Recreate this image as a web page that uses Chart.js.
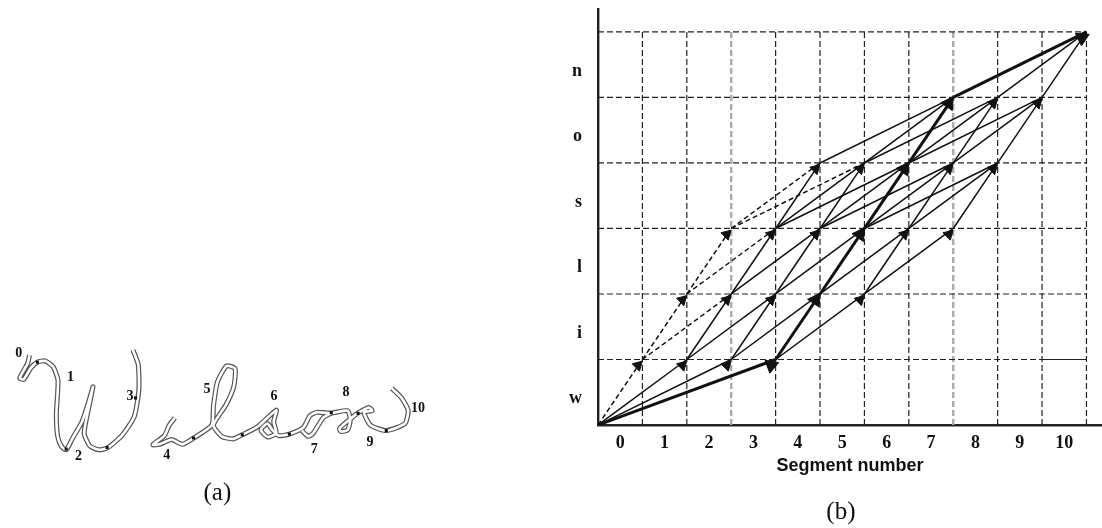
<!DOCTYPE html>
<html>
<head>
<meta charset="utf-8">
<title>Wilson segment graph</title>
<script src="https://cdn.jsdelivr.net/npm/chart.js@4"></script>
<style>
    html, body { margin: 0; padding: 0; background: #fff; }
    body { width: 1102px; height: 528px; position: relative; overflow: hidden; }
    canvas { position: absolute; filter: blur(0.55px); }
    #strokeChart { left: 0; top: 330px; }
    #graphChart { left: 560px; top: 0; }
</style>
</head>
<body>
<canvas id="strokeChart" width="440" height="198"></canvas>
<canvas id="graphChart" width="551" height="528"></canvas>
<script>
// panel (b): segment boundaries across, letter boundaries up
var boundaries = [0, 1, 2, 3, 4, 5, 6, 7, 8, 9, 10, 11];
var letterRows = [0, 1, 2, 3, 4, 5, 6];
var greyBoundaries = [3, 8];
var segmentLabels = ["0", "1", "2", "3", "4", "5", "6", "7", "8", "9", "10"];
var letterLabels = ["w", "i", "l", "s", "o", "n"];

// edges are [fromBoundary, fromRow, toBoundary, toRow]
var bestPath = [[0, 0, 4, 1], [4, 1, 5, 2], [5, 2, 6, 3], [6, 3, 7, 4], [7, 4, 8, 5], [8, 5, 11, 6]];
var dashedEdges = [
    [0, 0, 1, 1], [1, 1, 2, 2], [1, 1, 3, 2], [2, 2, 3, 3], [2, 2, 4, 3], [3, 3, 5, 4], [3, 3, 6, 4]
];
var solidEdges = [
    [0, 0, 2, 1], [0, 0, 3, 1],
    [2, 1, 3, 2], [2, 1, 4, 2], [3, 1, 4, 2], [3, 1, 5, 2], [4, 1, 6, 2],
    [3, 2, 4, 3], [3, 2, 5, 3], [4, 2, 5, 3], [4, 2, 6, 3], [5, 2, 7, 3], [6, 2, 7, 3], [6, 2, 8, 3],
    [4, 3, 5, 4], [4, 3, 6, 4], [4, 3, 7, 4], [5, 3, 6, 4], [5, 3, 7, 4], [5, 3, 8, 4],
    [6, 3, 8, 4], [6, 3, 9, 4], [7, 3, 8, 4], [7, 3, 9, 4], [8, 3, 9, 4],
    [5, 4, 8, 5], [6, 4, 8, 5], [6, 4, 9, 5], [7, 4, 9, 5], [7, 4, 10, 5], [8, 4, 9, 5], [8, 4, 10, 5], [9, 4, 10, 5],
    [9, 5, 11, 6], [10, 5, 11, 6]
];
var solidRowOne = [10, 11];

// panel (a): the handwritten word
var strokeW = [
    [78, 66], [72, 92], [48, 138], [60, 142], [82, 106], [102, 88], [125, 84], [150, 102], [165, 145], [160, 250],
    [164, 320], [176, 352], [190, 362], [210, 325], [238, 275], [258, 215], [272, 165], [260, 225], [245, 310],
    [262, 350], [290, 362], [316, 356], [360, 318], [398, 258], [412, 175], [410, 95], [394, 50]
];
var strokeIlson = [
    [522, 262], [505, 285], [490, 318], [455, 346], [475, 345], [512, 330], [545, 345], [580, 325], [635, 285],
    [640, 225], [652, 150], [680, 100], [706, 108], [702, 165], [678, 222], [640, 285], [665, 320], [700, 328],
    [728, 315], [775, 290], [832, 238], [824, 275], [832, 310], [805, 322], [785, 300], [805, 280], [820, 300],
    [840, 318], [872, 313], [915, 292], [935, 255], [955, 245], [1000, 247], [1050, 240], [1058, 270], [1050, 300],
    [1030, 305], [1025, 295], [1080, 248], [1115, 230], [1125, 240], [1100, 245], [1120, 285], [1168, 302],
    [1225, 280], [1235, 240], [1215, 200], [1185, 170]
];
var strokeOLoop = [[1000, 247], [975, 262], [945, 310], [930, 320], [910, 302]];
var segmentCuts = [
    [102, 88], [190, 360], [315, 355], [402, 200], [579, 325], [728, 315], [872, 313], [1000, 246], [1082, 248], [1168, 302]
];
var strokeLabels = ["0", "1", "2", "3", "4", "5", "6", "7", "8", "9", "10"];
var strokeLabelX = [45, 203, 228, 385, 497, 620, 825, 948, 1045, 1118, 1265];
var strokeLabelY = [60, 135, 382, 195, 380, 172, 195, 362, 182, 338, 232];

// arrow heads stop just short of each grid crossing
var headBackX = 0.1;
var headBackY = 0.09;

function toPoints(list) {
    return list.map(function (p) { return { x: p[0], y: p[1] }; });
}

function edgeDataset(edge, width, dash) {
    return {
        data: [{ x: edge[0], y: edge[1] }, { x: edge[2], y: edge[3] }],
        borderColor: "#111",
        borderWidth: width,
        borderDash: dash,
        pointRadius: 0,
        tension: 0
    };
}

// small helper so labels go through the chart scales
function textPlugin(items) {
    return {
        id: "textMarks",
        afterDatasetsDraw: function (chart) {
            var ctx = chart.ctx;
            ctx.save();
            ctx.fillStyle = "#111";
            ctx.textAlign = "center";
            ctx.textBaseline = "middle";
            items.forEach(function (item) {
                ctx.font = item.font;
                ctx.fillText(item.text, chart.scales.x.getPixelForValue(item.x), chart.scales.y.getPixelForValue(item.y));
            });
            ctx.restore();
        }
    };
}

function initializeStrokeChart() {
    var notes = strokeLabels.map(function (label, i) {
        return { text: label, x: strokeLabelX[i], y: strokeLabelY[i], font: "bold 14px 'Liberation Serif'" };
    });
    notes.push({ text: "(a)", x: 652, y: 497, font: "25px 'Liberation Serif'" });

    var strokes = [strokeW, strokeIlson, strokeOLoop];
    var datasets = [{
        data: toPoints(segmentCuts),
        showLine: false,
        pointStyle: "rect",
        pointRadius: 2.2,
        pointBackgroundColor: "#111",
        pointBorderWidth: 0
    }];
    strokes.forEach(function (s) {
        datasets.push({ data: toPoints(s), borderColor: "#fff", borderWidth: 2.6, pointRadius: 0, tension: 0.2 });
    });
    strokes.forEach(function (s) {
        datasets.push({ data: toPoints(s), borderColor: "#555", borderWidth: 5, pointRadius: 0, tension: 0.2 });
    });

    new Chart(document.getElementById("strokeChart"), {
        type: "line",
        data: { datasets: datasets },
        options: {
            responsive: false,
            animation: false,
            layout: { padding: 0 },
            plugins: { legend: { display: false }, tooltip: { enabled: false } },
            scales: {
                x: { type: "linear", display: false, min: 0, max: 1320 },
                y: { type: "linear", display: false, min: 0, max: 594, reverse: true }
            }
        },
        plugins: [textPlugin(notes)]
    });
}

function nodeList() {
    var seen = {};
    var nodes = [];
    bestPath.concat(solidEdges, dashedEdges).forEach(function (e) {
        var key = e[2] + "," + e[3];
        if (!seen[key]) {
            seen[key] = true;
            var onPath = bestPath.some(function (b) { return b[2] === e[2] && b[3] === e[3]; });
            nodes.push({
                x: e[2] - headBackX,
                y: e[3] - headBackY,
                onPath: onPath,
                run: onPath ? e[2] - e[0] : 1.5
            });
        }
    });
    return nodes;
}

function arrowRotation(ctx) {
    var scales = ctx.chart.scales;
    var unitX = scales.x.getPixelForValue(1) - scales.x.getPixelForValue(0);
    var unitY = scales.y.getPixelForValue(0) - scales.y.getPixelForValue(1);
    var run = ctx.raw ? ctx.raw.run : 1;
    return Math.atan2(run * unitX, unitY) * 180 / Math.PI;
}

function initializeGraphChart() {
    var datasets = [{
        data: nodeList(),
        showLine: false,
        pointStyle: "triangle",
        pointRotation: arrowRotation,
        pointRadius: function (ctx) { return ctx.raw && ctx.raw.onPath ? 8 : 6; },
        pointBackgroundColor: "#111",
        pointBorderColor: "#111",
        pointBorderWidth: 1
    }];

    bestPath.forEach(function (e) { datasets.push(edgeDataset(e, 3, [])); });
    solidEdges.forEach(function (e) { datasets.push(edgeDataset(e, 1.5, [])); });
    dashedEdges.forEach(function (e) { datasets.push(edgeDataset(e, 1.5, [5, 3])); });

    datasets.push({
        data: solidRowOne.map(function (b) { return { x: b, y: 1 }; }),
        borderColor: "#222", borderWidth: 1.2, pointRadius: 0
    });
    letterRows.slice(1).forEach(function (row) {
        var lastBoundary = row === 1 ? solidRowOne[0] : boundaries[boundaries.length - 1];
        datasets.push({
            data: [{ x: 0, y: row }, { x: lastBoundary, y: row }],
            borderColor: "#222", borderWidth: 1.2, borderDash: [6, 3], pointRadius: 0
        });
    });
    boundaries.slice(1).forEach(function (b) {
        var grey = greyBoundaries.indexOf(b) >= 0;
        datasets.push({
            data: [{ x: b, y: 0 }, { x: b, y: letterRows[letterRows.length - 1] }],
            borderColor: grey ? "#aaa" : "#222",
            borderWidth: grey ? 2.4 : 1.2,
            borderDash: [6, 3],
            pointRadius: 0
        });
    });

    new Chart(document.getElementById("graphChart"), {
        type: "line",
        data: { datasets: datasets },
        options: {
            responsive: false,
            animation: false,
            layout: { padding: { top: 9, bottom: 51, left: 0, right: 0 } },
            plugins: { legend: { display: false }, tooltip: { enabled: false } },
            scales: {
                x: {
                    type: "linear",
                    min: 0,
                    max: 11.35,
                    grid: { display: false },
                    border: { color: "#222", width: 2.4 },
                    afterFit: function (scale) {
                        scale.height = 52;
                        scale.paddingLeft = 0;
                        scale.paddingRight = 0;
                    },
                    afterBuildTicks: function (scale) {
                        scale.ticks = segmentLabels.map(function (l, i) { return { value: i + 0.5 }; });
                    },
                    ticks: {
                        autoSkip: false,
                        maxRotation: 0,
                        padding: 0,
                        color: "#111",
                        font: { family: "'Liberation Serif'", size: 18, weight: "bold" },
                        callback: function (value, index) { return segmentLabels[index]; }
                    },
                    title: {
                        display: true,
                        text: "Segment number",
                        color: "#111",
                        padding: 0,
                        font: { family: "'Liberation Sans'", size: 18, weight: "bold" }
                    }
                },
                y: {
                    type: "linear",
                    min: 0,
                    max: 6.35,
                    grid: { display: false },
                    border: { color: "#222", width: 2.4 },
                    afterFit: function (scale) {
                        scale.width = 38;
                        scale.paddingTop = 0;
                        scale.paddingBottom = 0;
                    },
                    afterBuildTicks: function (scale) {
                        scale.ticks = letterLabels.map(function (l, i) { return { value: i + 0.4 }; });
                    },
                    ticks: {
                        autoSkip: false,
                        padding: 8,
                        color: "#111",
                        font: { family: "'Liberation Serif'", size: 18, weight: "bold" },
                        callback: function (value, index) { return letterLabels[index]; }
                    }
                }
            }
        },
        plugins: [textPlugin([{ text: "(b)", x: 5.47, y: -1.33, font: "25px 'Liberation Serif'" }])]
    });
}

initializeStrokeChart();
initializeGraphChart();
</script>
</body>
</html>
